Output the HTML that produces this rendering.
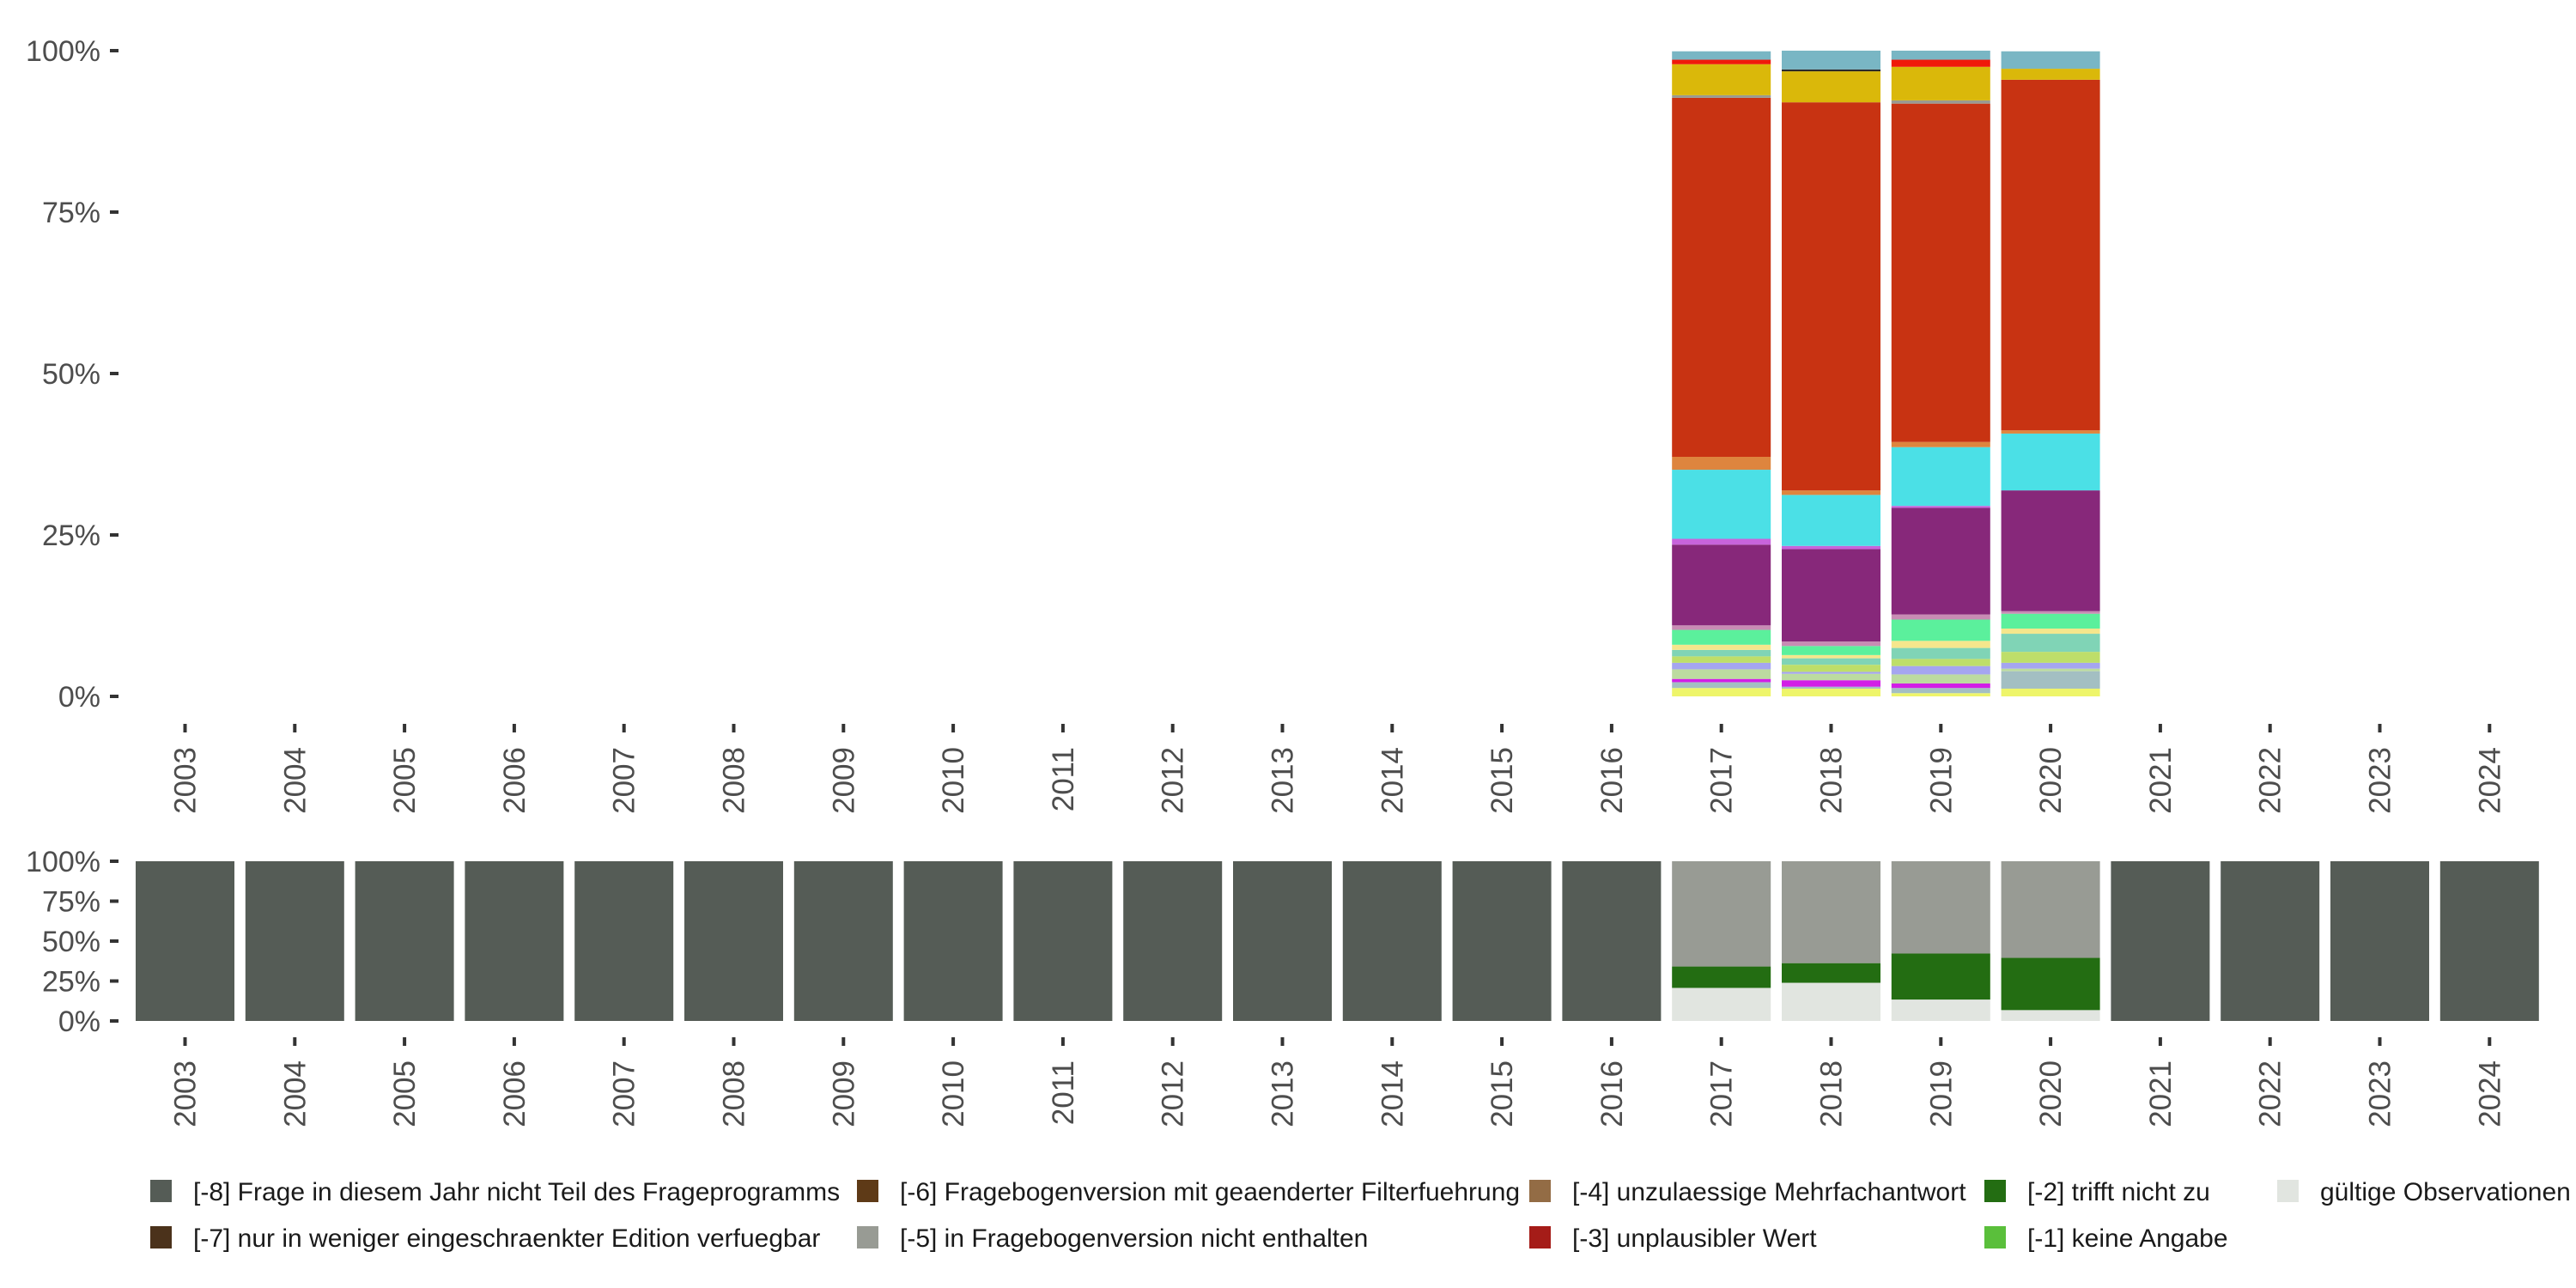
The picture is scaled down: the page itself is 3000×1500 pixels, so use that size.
<!DOCTYPE html>
<html><head><meta charset="utf-8">
<style>
html,body{margin:0;padding:0;background:#fff;}
svg{display:block;}
text{font-family:"Liberation Sans",sans-serif;fill:#4d4d4d;}
</style></head>
<body>
<svg id="chart" width="3000" height="1500" viewBox="0 0 3000 1500" xmlns="http://www.w3.org/2000/svg"></svg>
<script>
const years = [2003,2004,2005,2006,2007,2008,2009,2010,2011,2012,2013,2014,2015,2016,2017,2018,2019,2020,2021,2022,2023,2024];
const topYears = [2017,2018,2019,2020];
// top chart series (stacked bottom-up), values in percent per topYears
const topColors = ["#eef56a","#a3bfc2","#d21ee6","#bcdba0","#a5a5f0","#bede6a","#80d4b6","#f5e68c","#5bf09c","#c88cb4","#87287a","#c864dc","#4be0e6","#de853e","#c83312","#9a9a90","#dab80a","#2a2a2a","#f01a0a","#79b6c4"];
const s01 = [1.3,1.2,0.5,1.2];
const s02 = [0.9,0.3,0.8,2.7];
const s03 = [0.5,1.0,0.7,0.0];
const s04 = [1.5,1.0,1.4,0.4];
const s05 = [1.0,0.3,1.3,0.9];
const s06 = [1.0,1.1,1.1,1.7];
const s07 = [1.0,1.0,1.7,2.8];
const s08 = [0.8,0.5,1.1,0.8];
const s09 = [2.3,1.4,3.3,2.3];
const s10 = [0.7,0.7,0.8,0.4];
const s11 = [12.5,14.3,16.5,18.7];
const s12 = [0.9,0.5,0.3,0.0];
const s13 = [10.7,7.9,9.1,8.8];
const s14 = [2.0,0.7,0.8,0.5];
const s15 = [55.6,60.1,52.4,54.3];
const s16 = [0.4,0.0,0.5,0.0];
const s17 = [4.8,4.8,5.2,1.7];
const s18 = [0.0,0.3,0.0,0.0];
const s19 = [0.7,0.0,1.1,0.0];
const s20 = [1.3,2.9,1.4,2.7];
const topSeries = [s01,s02,s03,s04,s05,s06,s07,s08,s09,s10,s11,s12,s13,s14,s15,s16,s17,s18,s19,s20];
// bottom chart: per year, valid / not applicable (-2) / not in questionnaire version (-5); rest is [-8]
const validVals = [0,0,0,0,0,0,0,0,0,0,0,0,0,0,20.7,23.9,13.4,6.8,0,0,0,0];
const tnzVals   = [0,0,0,0,0,0,0,0,0,0,0,0,0,0,13.4,12.3,28.8,32.7,0,0,0,0];
const notInVals = [0,0,0,0,0,0,0,0,0,0,0,0,0,0,65.9,63.8,57.8,60.5,0,0,0,0];
const yTicks = [0,25,50,75,100];
const legendLabels = ["[-8] Frage in diesem Jahr nicht Teil des Frageprogramms","[-7] nur in weniger eingeschraenkter Edition verfuegbar","[-6] Fragebogenversion mit geaenderter Filterfuehrung","[-5] in Fragebogenversion nicht enthalten","[-4] unzulaessige Mehrfachantwort","[-3] unplausibler Wert","[-2] trifft nicht zu","[-1] keine Angabe","gültige Observationen"];
const legendColors = ["#555c56","#4b321b","#5e3a17","#989b94","#936c45","#a51c18","#236d12","#5abf3b","#e1e5e0"];

const NS="http://www.w3.org/2000/svg";
const svg=document.getElementById('chart');
function el(tag,attrs,parent){const e=document.createElementNS(NS,tag);for(const k in attrs)e.setAttribute(k,attrs[k]);(parent||svg).appendChild(e);return e;}
const x0=215.5, step=127.8, bw=115;
function xc(yr){return x0+(yr-2003)*step;}
function yTop(v){return 811-(v/100)*(811-59);}
function yBot(v){return 1189-(v/100)*(1189-1003);}

function axes(g,yf,tickY,labelY,name){
  yTicks.forEach(t=>{
    const l=el('line',{x1:128,x2:138,y1:yf(t),y2:yf(t),stroke:'#333','stroke-width':4},g);
    
    
    const tx=el('text',{x:117,y:yf(t)+12,'text-anchor':'end','font-size':34},g);
    tx.textContent=t+'%';
    
    
  });
  years.forEach(yr=>{
    const l=el('line',{x1:xc(yr),x2:xc(yr),y1:tickY,y2:tickY+10,stroke:'#333','stroke-width':4},g);
    
    
    const tx=el('text',{transform:`translate(${xc(yr)+12},${labelY}) rotate(-90)`,'text-anchor':'end','font-size':35},g);
    tx.textContent=yr;
    
    
  });
}

// top chart
const gTop=el('g',{});


topYears.forEach((yr,i)=>{
  let cum=0;
  topSeries.forEach((s,k)=>{
    const v=s[i]; if(v<=0){return;}
    const r=el('rect',{x:xc(yr)-bw/2,y:yTop(cum+v),width:bw,height:yTop(cum)-yTop(cum+v),fill:topColors[k]},gTop);
    
    
    cum+=v;
  });
});
axes(gTop,yTop,843,870,'top');

// bottom chart
const gBot=el('g',{});


years.forEach((yr,i)=>{
  const segs=[[validVals[i],'#e1e5e0','valid'],[tnzVals[i],'#236d12','not-applicable'],[notInVals[i],'#989b94','not-in-version']];
  let cum=0;
  segs.forEach(([v,c,n])=>{
    if(v<=0)return;
    const r=el('rect',{x:xc(yr)-bw/2,y:yBot(cum+v),width:bw,height:yBot(cum)-yBot(cum+v),fill:c},gBot);
    
    
    cum+=v;
  });
  const rest=100-cum;
  if(rest>0.01){
    const r=el('rect',{x:xc(yr)-bw/2,y:yBot(100),width:bw,height:yBot(cum)-yBot(100),fill:'#555c56'},gBot);
    
    
  }
});
axes(gBot,yBot,1208,1235,'bottom');

// legend
const gLeg=el('g',{});


const colX=[175,998,1781,2311,2652];
legendLabels.forEach((lab,i)=>{
  const col=Math.floor(i/2), row=i%2;
  const cx=colX[col], cy=row?1441:1387;
  const gi=el('g',{},gLeg);
  
  
  const r=el('rect',{x:cx,y:cy-13,width:25,height:26,fill:legendColors[i]},gi);
  
  
  const t=el('text',{x:cx+50,y:cy+11,'font-size':30,style:'fill:#1a1a1a'},gi);
  t.textContent=lab;
  
  
});
</script>
</body></html>
